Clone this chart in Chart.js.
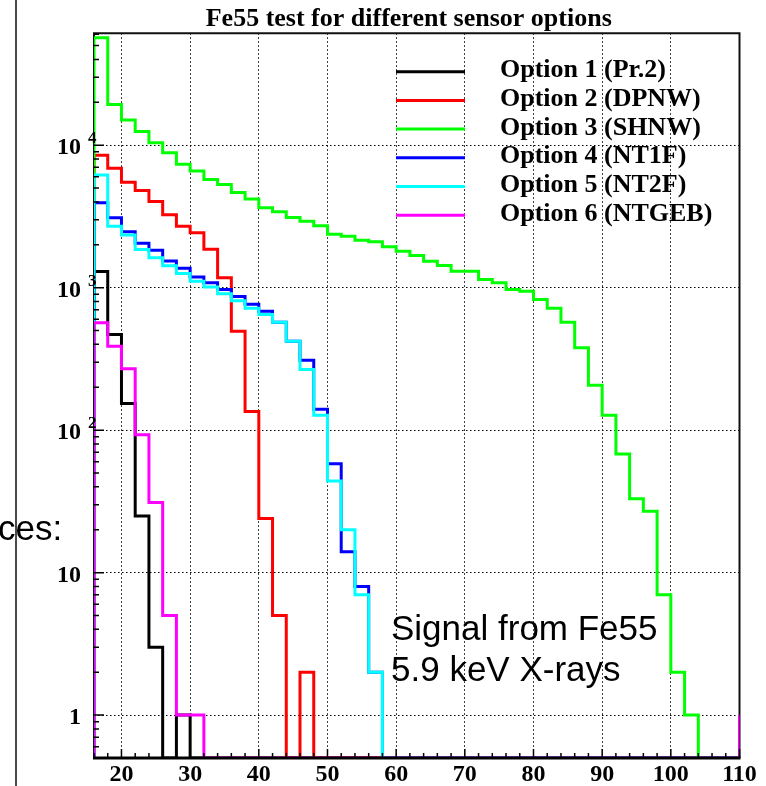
<!DOCTYPE html>
<html>
<head>
<meta charset="utf-8">
<title>Fe55 test for different sensor options</title>
<script src="https://cdn.jsdelivr.net/npm/chart.js@4.4.0/dist/chart.umd.min.js"></script>
<style>
    html, body { margin: 0; padding: 0; background: #fff; }
    #wrap { position: relative; width: 766px; height: 786px; overflow: hidden; }
    #chart { position: absolute; left: 0; top: 0; }
    .slide-text {
        position: absolute;
        font-family: "Liberation Sans", Arial, sans-serif;
        font-size: 35px;
        line-height: 41px;
        color: #000;
        white-space: nowrap;
    }
    #frag { left: -2px; top: 507px; }
    #signal { left: 391px; top: 607px; }
    #edge { position: absolute; left: 15px; top: 0; width: 2px; height: 786px; background: #4a4a4a; }
</style>
</head>
<body>
<div id="wrap">
    <canvas id="chart" width="766" height="786"></canvas>
    <div class="slide-text" id="frag">ces:</div>
    <div id="edge"></div>
    <div class="slide-text" id="signal">Signal from Fe55<br>5.9 keV X-rays</div>
</div>
<script>
// Bornes des axes
const X_MIN = 16, X_MAX = 110;
const Y_MIN = 0.5, Y_MAX = 61000;

// Début de chaque classe (largeur 2)
const binStart = [16, 18, 20, 22, 24, 26, 28, 30, 32, 34, 36, 38, 40, 42, 44, 46, 48, 50, 52, 54,
    56, 58, 60, 62, 64, 66, 68, 70, 72, 74, 76, 78, 80, 82, 84, 86, 88, 90, 92, 94,
    96, 98, 100, 102, 104, 106, 108];

const xTickLabels = [20, 30, 40, 50, 60, 70, 80, 90, 100, 110];
const yMajorTicks = [1, 10, 100, 1000, 10000];

const seriesLabels = ['Option 1 (Pr.2)', 'Option 2 (DPNW)', 'Option 3 (SHNW)',
    'Option 4 (NT1F)', 'Option 5 (NT2F)', 'Option 6 (NTGEB)'];
const seriesColors = ['#000000', '#ff0000', '#00ff00', '#0000ff', '#00ffff', '#ff00ff'];

// Contenu des classes
const opt1 = [1300, 470, 154, 25, 3, 0, 1, 0, 0, 0,
    0, 0, 0, 0, 0, 0, 0, 0, 0, 0,
    0, 0, 0, 0, 0, 0, 0, 0, 0, 0,
    0, 0, 0, 0, 0, 0, 0, 0, 0, 0,
    0, 0, 0, 0, 0, 0, 0];
const opt2 = [8500, 6900, 5500, 4800, 4030, 3250, 2700, 2430, 1860, 1175,
    495, 135, 24, 5, 0, 2, 0, 0, 0, 0,
    0, 0, 0, 0, 0, 0, 0, 0, 0, 0,
    0, 0, 0, 0, 0, 0, 0, 0, 0, 0,
    0, 0, 0, 0, 0, 0, 0];
const opt3 = [56700, 19300, 15000, 12500, 10400, 8850, 7350, 6580, 5740, 5300,
    4650, 4190, 3640, 3410, 3110, 2930, 2720, 2370, 2300, 2150,
    2100, 1940, 1800, 1680, 1535, 1430, 1306, 1306, 1142, 1082,
    971, 945, 826, 718, 572, 379, 207, 127, 68, 33,
    27, 7, 2, 1, 0, 0, 0];
const opt4 = [3940, 3100, 2470, 2050, 1834, 1540, 1370, 1190, 1082, 971,
    867, 766, 684, 573, 421, 310, 140, 58, 14, 8,
    2, 0, 0, 0, 0, 0, 0, 0, 0, 0,
    0, 0, 0, 0, 0, 0, 0, 0, 0, 0,
    0, 0, 0, 0, 0, 0, 0];
const opt5 = [6180, 2700, 2340, 1855, 1622, 1425, 1256, 1111, 1010, 905,
    810, 717, 649, 573, 421, 267, 127, 44, 20, 7,
    2, 0, 0, 0, 0, 0, 0, 0, 0, 0,
    0, 0, 0, 0, 0, 0, 0, 0, 0, 0,
    0, 0, 0, 0, 0, 0, 0];
const opt6 = [567, 388, 270, 93, 31, 5, 1, 1, 0, 0,
    0, 0, 0, 0, 0, 0, 0, 0, 0, 0,
    0, 0, 0, 0, 0, 0, 0, 0, 0, 0,
    0, 0, 0, 0, 0, 0, 0, 0, 0, 0,
    0, 0, 0, 0, 0, 0, 0];
// Valeur au bord droit (trait vertical à 110)
const overflow = [0, 0, 0, 0, 0, 1];

const allSeries = [opt1, opt2, opt3, opt4, opt5, opt6];

// Contour d'histogramme : les classes vides sont posées sur le bas de l'axe
function histPoints(values, over) {
    const pts = [{ x: binStart[0], y: Y_MIN }];
    values.forEach(function(v, i) {
        pts.push({ x: binStart[i], y: v > 0 ? v : Y_MIN });
    });
    pts.push({ x: X_MAX, y: over > 0 ? over : Y_MIN });
    return pts;
}

// Cadre, graduations intérieures, étiquettes en y et légende façon ROOT
const rootLook = {
    id: 'rootLook',
    beforeDatasetsDraw(chart) {
        const { ctx, chartArea: a } = chart;
        ctx.save();
        ctx.strokeStyle = '#111';
        ctx.lineWidth = 2;
        ctx.beginPath();
        ctx.moveTo(a.left, a.bottom);
        ctx.lineTo(a.left, a.top);
        ctx.lineTo(a.right, a.top);
        ctx.lineTo(a.right, a.bottom);
        ctx.stroke();
        ctx.restore();
    },
    afterDatasetsDraw(chart) {
        const { ctx, chartArea: a, scales: { x, y } } = chart;
        ctx.save();

        // axe du bas au-dessus des classes vides
        ctx.strokeStyle = '#000';
        ctx.lineWidth = 3;
        ctx.beginPath();
        ctx.moveTo(a.left - 1, a.bottom);
        ctx.lineTo(a.right + 1, a.bottom);
        ctx.stroke();

        // graduations vers l'intérieur
        ctx.lineWidth = 1.5;
        ctx.beginPath();
        x.ticks.forEach(function(t) {
            const px = x.getPixelForValue(t.value);
            const len = xTickLabels.includes(t.value) ? 9 : 5;
            ctx.moveTo(px, a.bottom);
            ctx.lineTo(px, a.bottom - len);
        });
        y.ticks.forEach(function(t) {
            const py = y.getPixelForValue(t.value);
            const len = yMajorTicks.includes(t.value) ? 10 : 5;
            ctx.moveTo(a.left, py);
            ctx.lineTo(a.left + len, py);
        });
        ctx.stroke();

        // étiquettes 10^n
        ctx.fillStyle = '#000';
        ctx.textBaseline = 'alphabetic';
        yMajorTicks.forEach(function(v) {
            const py = y.getPixelForValue(v);
            const exp = Math.round(Math.log10(v));
            ctx.font = 'bold 24px "Liberation Serif"';
            ctx.textAlign = 'right';
            ctx.fillText(exp === 0 ? '1' : '10', a.left - 13, py + 9);
            if (exp > 1) {
                ctx.font = 'bold 17px "Liberation Serif"';
                ctx.textAlign = 'left';
                ctx.fillText(String(exp), a.left - 6, py - 2);
            }
        });

        // légende
        chart.data.datasets.forEach(function(ds, i) {
            const ly = 71.7 + i * 28.7;
            ctx.strokeStyle = ds.borderColor;
            ctx.lineWidth = 3;
            ctx.beginPath();
            ctx.moveTo(396, ly);
            ctx.lineTo(465, ly);
            ctx.stroke();
            ctx.font = 'bold 26px "Liberation Serif"';
            ctx.textAlign = 'left';
            ctx.fillStyle = '#000';
            ctx.fillText(ds.label, 500, ly + 5.6);
        });
        ctx.restore();
    }
};

document.addEventListener('DOMContentLoaded', function() {
    const datasets = allSeries.map(function(values, i) {
        return {
            label: seriesLabels[i],
            data: histPoints(values, overflow[i]),
            borderColor: seriesColors[i],
            borderWidth: 3,
            stepped: 'before',
            pointRadius: 0,
            fill: false,
            borderJoinStyle: 'miter',
            borderCapStyle: 'butt',
            order: allSeries.length - i
        };
    });

    new Chart(document.getElementById('chart'), {
        type: 'line',
        data: { datasets: datasets },
        options: {
            responsive: false,
            animation: false,
            events: [],
            layout: { padding: { left: 78, right: 26.5, top: 0, bottom: 0 } },
            plugins: {
                legend: { display: false },
                tooltip: { enabled: false },
                title: {
                    display: true,
                    text: 'Fe55 test for different sensor options',
                    color: '#000',
                    font: { family: 'Liberation Serif', size: 26, weight: 'bold', lineHeight: 1 },
                    padding: { top: 6.5, bottom: 0.8 }
                }
            },
            scales: {
                x: {
                    type: 'linear',
                    min: X_MIN,
                    max: X_MAX,
                    afterBuildTicks: function(scale) {
                        scale.ticks = binStart.concat([X_MAX]).map(function(v) { return { value: v }; });
                    },
                    afterFit: function(scale) { scale.height = 28; },
                    ticks: {
                        autoSkip: false,
                        maxRotation: 0,
                        padding: 2,
                        color: '#000',
                        font: { family: 'Liberation Serif', size: 24, weight: 'bold' },
                        callback: function(v) { return xTickLabels.includes(v) ? String(v) : ''; }
                    },
                    grid: {
                        drawTicks: false,
                        color: '#000',
                        lineWidth: function(c) {
                            return c.tick && xTickLabels.includes(c.tick.value) && c.tick.value < X_MAX ? 1 : 0;
                        }
                    },
                    border: { display: false, dash: [1.5, 2.5] }
                },
                y: {
                    type: 'logarithmic',
                    min: Y_MIN,
                    max: Y_MAX,
                    afterBuildTicks: function(scale) {
                        const ticks = [];
                        [0.1].concat(yMajorTicks).forEach(function(d) {
                            for (let m = 1; m <= 9; m++) {
                                const v = m === 1 ? d : m * d;
                                if (v >= Y_MIN && v <= Y_MAX) ticks.push({ value: v });
                            }
                        });
                        scale.ticks = ticks;
                    },
                    afterFit: function(scale) { scale.width = 16; },
                    ticks: { display: false },
                    grid: {
                        drawTicks: false,
                        color: '#000',
                        lineWidth: function(c) {
                            return c.tick && yMajorTicks.includes(c.tick.value) ? 1 : 0;
                        }
                    },
                    border: { display: false, dash: [1.5, 2.5] }
                }
            }
        },
        plugins: [rootLook]
    });
});
</script>
</body>
</html>
